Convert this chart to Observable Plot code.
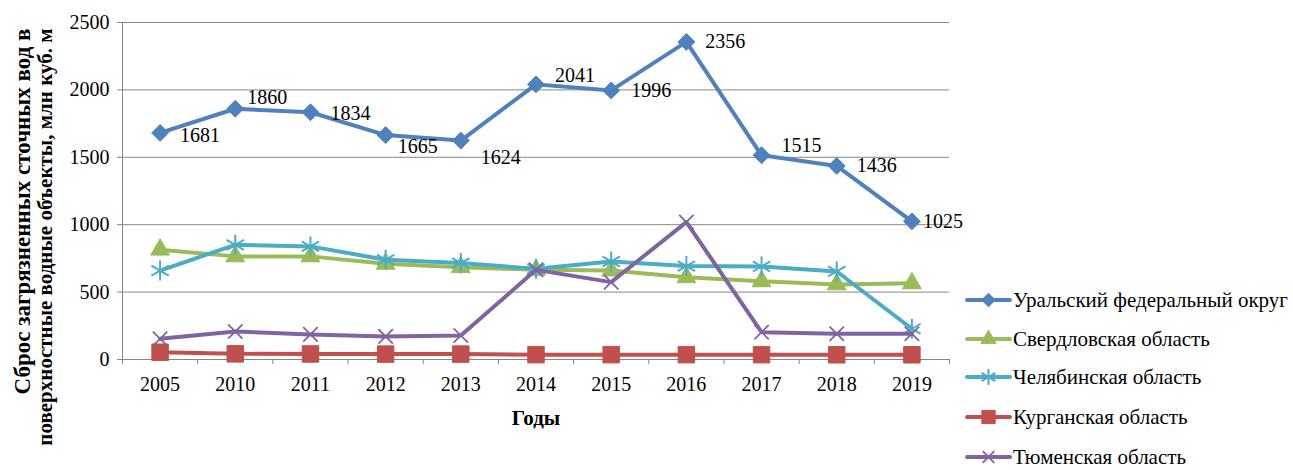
<!DOCTYPE html>
<html>
<head>
<meta charset="utf-8">
<script src="https://cdn.jsdelivr.net/npm/d3@7"></script>
<script src="https://cdn.jsdelivr.net/npm/@observablehq/plot@0.6"></script>
<style>
  html, body { margin: 0; padding: 0; background: #fff; }
  #wrap { position: relative; width: 1293px; height: 470px; overflow: hidden; font-family: "Liberation Serif", serif; }
  #chart text { font-family: "Liberation Serif", serif !important; }
  #legend { position: absolute; left: 964px; top: 0; }
  .item { position: absolute; left: 0; display: flex; align-items: center; white-space: nowrap; font-size: 21px; color: #000; font-family: "Liberation Serif", serif; }
  .item svg { display: block; }
</style>
</head>
<body>
<div id="wrap"><div id="chart"></div><div id="legend"></div></div>
<script>
// ---- data ----
const years = ["2005", "2010", "2011", "2012", "2013", "2014", "2015", "2016", "2017", "2018", "2019"];
const ural   = [1681, 1860, 1834, 1665, 1624, 2041, 1996, 2356, 1515, 1436, 1025];
const sverd  = [815, 765, 765, 710, 685, 665, 660, 610, 580, 557, 565];
const chel   = [660, 851, 839, 740, 715, 673, 727, 693, 690, 653, 228];
const kurgan = [54, 42, 41, 40, 40, 36, 36, 36, 36, 35, 35];
const tyumen = [154, 208, 186, 171, 178, 665, 574, 1019, 203, 191, 191];
const seriesNames = ["Уральский федеральный округ", "Свердловская область", "Челябинская область", "Курганская область", "Тюменская область"];
const yTicks = [0, 500, 1000, 1500, 2000, 2500];
const yTitle1 = "Сброс загрязненных сточных вод в";
const yTitle2 = "поверхностные водные объекты, млн куб. м";
const xTitle = "Годы";

// ---- styles (label placement for the Ural series) ----
const FONT = "Liberation Serif, serif";
const labelDx = [20, 12, 20, 12, 20, 19, 20, 19, 20, 20, 11];
const labelDy = [3, -11, 1, 12, 17, -9, 0, 0, -10, 0, 0];
const styles = [
  {color: "#4F81BD", symbol: "diamond2", r: 7.6, fill: true, sw: 1},
  {color: "#9BBB59", symbol: "triangle", r: 7, fill: true, sw: 1},
  {color: "#4BACC6", symbol: "asterisk", r: 9.5, fill: false, sw: 2},
  {color: "#C0504D", symbol: "square", r: 9.3, fill: true, sw: 1},
  {color: "#8064A2", symbol: "times", r: 6.6, fill: false, sw: 1.8}
];
const allSeries = [ural, sverd, chel, kurgan, tyumen];
const grid = "#868686";

const idx = d3.range(years.length);
const marks = [
  Plot.gridY(yTicks, {stroke: grid, strokeOpacity: 1, strokeWidth: 1}),
  Plot.ruleY([0], {stroke: grid, strokeWidth: 1}),
  Plot.ruleX([-0.5], {y1: 0, y2: 2500, stroke: grid, strokeWidth: 1}),
  Plot.axisY(yTicks, {tickSize: 5, tickPadding: 8, tickFormat: d => String(d), stroke: grid, fill: "#000", label: null, fontSize: 20}),
  Plot.axisX(idx, {tickSize: 0, tickPadding: 17, tickFormat: i => years[i], fill: "#000", label: null, fontSize: 20}),
  Plot.axisX(d3.range(years.length + 1).map(i => i - 0.5), {tickSize: 5, tickFormat: () => "", stroke: grid, label: null})
];
allSeries.forEach((vals, s) => {
  const st = styles[s];
  marks.push(Plot.line(idx, {x: i => i, y: i => vals[i], stroke: st.color, strokeWidth: 4, strokeLinejoin: "round", strokeLinecap: "round"}));
  marks.push(Plot.dot(idx, {x: i => i, y: i => vals[i], symbol: st.symbol, r: st.r, fill: st.fill ? st.color : "none", stroke: st.color, strokeWidth: st.sw}));
});
ural.forEach((v, i) => {
  marks.push(Plot.text([i], {x: d => d, y: () => v, text: () => String(v), textAnchor: "start", lineAnchor: "middle", dx: labelDx[i], dy: labelDy[i], fill: "#000", fontSize: 20}));
});
marks.push(Plot.text([yTitle1], {text: d => d, frameAnchor: "top-left", rotate: -90, textAnchor: "end", lineAnchor: "bottom", dx: -93, dy: 6, fontWeight: "bold", fontSize: 23, fill: "#000"}));
marks.push(Plot.text([yTitle2], {text: d => d, frameAnchor: "top-left", rotate: -90, textAnchor: "end", lineAnchor: "bottom", dx: -71, dy: 6, fontWeight: "bold", fontSize: 21, fill: "#000"}));
marks.push(Plot.text([xTitle], {text: d => d, frameAnchor: "bottom", lineAnchor: "middle", dy: 59, fontWeight: "bold", fontSize: 21, fill: "#000"}));

const chart = Plot.plot({
  width: 1293,
  height: 470,
  marginLeft: 122,
  marginRight: 344,
  marginTop: 22,
  marginBottom: 111,
  style: {fontFamily: FONT, fontSize: "20px", background: "#fff", overflow: "visible"},
  x: {domain: [-0.5, years.length - 0.5], axis: null},
  y: {domain: [0, 2500], axis: null},
  marks
});
document.getElementById("chart").appendChild(chart);

// ---- legend ----
const legendTops = [300, 339, 377, 417, 457];
const symMap = {diamond2: d3.symbolDiamond2, triangle: d3.symbolTriangle, asterisk: d3.symbolAsterisk, square: d3.symbolSquare, times: d3.symbolTimes};
const legend = d3.select("#legend");
seriesNames.forEach((name, s) => {
  const st = styles[s];
  const item = legend.append("div").attr("class", "item").style("top", (legendTops[s] - 13) + "px");
  const svg = item.append("svg").attr("width", 48).attr("height", 26);
  svg.append("line").attr("x1", 3).attr("x2", 46).attr("y1", 13).attr("y2", 13)
    .attr("stroke", st.color).attr("stroke-width", 4).attr("stroke-linecap", "round");
  svg.append("path").attr("transform", "translate(24.5,13)")
    .attr("d", d3.symbol(symMap[st.symbol], Math.PI * st.r * st.r * 0.65)())
    .attr("fill", st.fill ? st.color : "none").attr("stroke", st.color).attr("stroke-width", st.sw);
  item.append("span").text(name).style("margin-left", "1px");
});
</script>
</body>
</html>
